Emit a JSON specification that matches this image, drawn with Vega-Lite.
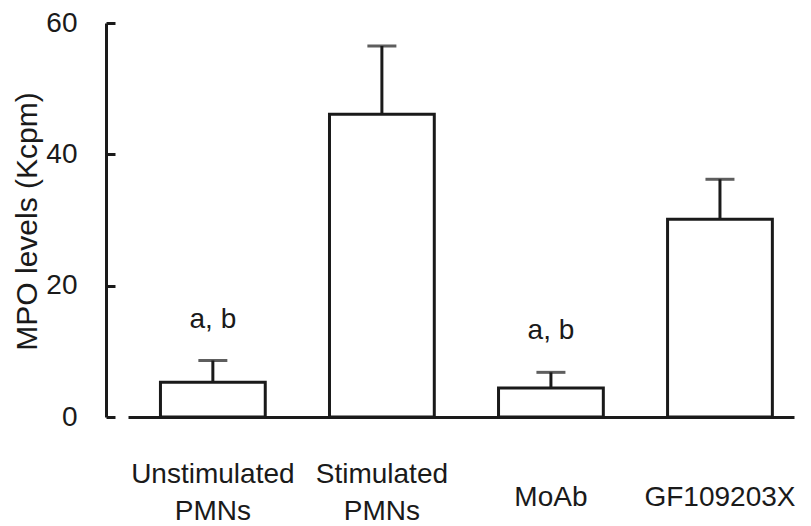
{
  "$schema": "https://vega.github.io/schema/vega-lite/v6.json",
  "autosize": {"type": "none"},
  "padding": {"left": 128, "top": 23, "right": 17, "bottom": 109},
  "width": 666,
  "height": 394,
  "background": "white",
  "config": {
    "view": {"stroke": null},
    "font": "Liberation Sans",
    "axis": {"grid": false}
  },
  "data": {
    "values": [
      {"group": "Unstimulated PMNs", "value": 5.3, "upper": 8.6, "note": "a, b"},
      {"group": "Stimulated PMNs", "value": 46.1, "upper": 56.5, "note": ""},
      {"group": "MoAb", "value": 4.4, "upper": 6.8, "note": "a, b"},
      {"group": "GF109203X", "value": 30.1, "upper": 36.2, "note": ""}
    ]
  },
  "encoding": {
    "x": {
      "field": "group",
      "type": "nominal",
      "sort": null,
      "scale": {"paddingInner": 0.38, "paddingOuter": 0.16, "align": 0.6},
      "axis": {
        "title": null,
        "ticks": false,
        "domainColor": "#1a1a1a",
        "domainWidth": 3,
        "labelAngle": 0,
        "labelFontSize": 28,
        "labelColor": "#1a1a1a",
        "labelLineHeight": 37,
        "labelBaseline": "alphabetic",
        "labelPadding": {"condition": {"test": "indexof(datum.label, ' ') > 0", "value": 65}, "value": 88},
        "labelExpr": "split(datum.label, ' ')"
      }
    }
  },
  "layer": [
    {
      "mark": {"type": "rule", "stroke": "#1a1a1a", "strokeWidth": 3},
      "encoding": {
        "y": {"field": "value", "type": "quantitative"},
        "y2": {"field": "upper"}
      }
    },
    {
      "mark": {"type": "tick", "color": "#1a1a1a", "size": 29, "thickness": 3, "orient": "horizontal"},
      "encoding": {
        "y": {"field": "upper", "type": "quantitative"}
      }
    },
    {
      "mark": {"type": "bar", "fill": "white", "stroke": "#1a1a1a", "strokeWidth": 3, "width": {"band": 1}},
      "encoding": {
        "y": {
          "field": "value",
          "type": "quantitative",
          "scale": {"domain": [0, 60], "nice": false, "zero": true},
          "axis": {
            "title": "MPO levels (Kcpm)",
            "titleFontSize": 30,
            "titleFontWeight": "normal",
            "titleColor": "#1a1a1a",
            "titleAngle": -90,
            "titleBaseline": "alphabetic",
            "titleAlign": "center",
            "titleX": -70,
            "titleY": 198,
            "values": [0, 20, 40, 60],
            "offset": 22,
            "domainColor": "#1a1a1a",
            "domainWidth": 3,
            "tickColor": "#1a1a1a",
            "tickWidth": 3,
            "tickSize": -9,
            "labelFontSize": 28,
            "labelColor": "#1a1a1a",
            "labelPadding": 38,
            "labelBaseline": "middle"
          }
        }
      }
    },
    {
      "mark": {"type": "text", "fontSize": 28, "color": "#1a1a1a", "baseline": "alphabetic", "dy": -33},
      "encoding": {
        "y": {"field": "upper", "type": "quantitative"},
        "text": {"field": "note"}
      }
    }
  ]
}
